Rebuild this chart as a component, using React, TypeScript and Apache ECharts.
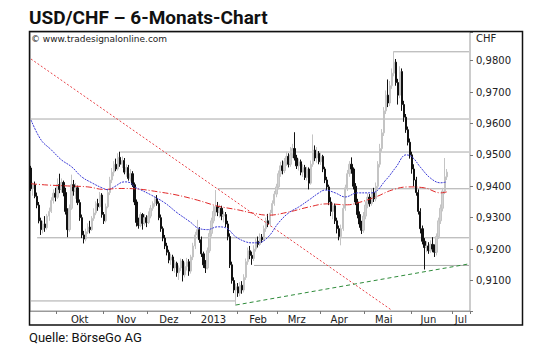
import React, { useEffect, useRef } from "react";
import * as echarts from "echarts";

// ---- categories (trading days from 2012-09-12) ----
const firstDay = "2012-09-12";
const dayCount = 217;

// ---- month tick labels ----
const monthLabels = ["Okt", "Nov", "Dez", "2013", "Feb", "Mrz", "Apr", "Mai", "Jun", "Jul"];
const monthLabelDates = [
  "2012-10-16", "2012-11-16", "2012-12-17", "2013-01-16", "2013-02-15",
  "2013-03-14", "2013-04-12", "2013-05-14", "2013-06-13", "2013-07-05",
];

// ---- daily candles [open, close, low, high] ----
const ohlc: number[][] = [
  [0.9458, 0.9392, 0.9385, 0.9465], [0.9392, 0.9405, 0.9370, 0.9412], [0.9405, 0.9368, 0.9362, 0.9415],
  [0.9368, 0.9340, 0.9330, 0.9380], [0.9340, 0.9290, 0.9282, 0.9350], [0.9290, 0.9262, 0.9245, 0.9300],
  [0.9262, 0.9280, 0.9250, 0.9290], [0.9280, 0.9268, 0.9255, 0.9305], [0.9268, 0.9305, 0.9262, 0.9312],
  [0.9305, 0.9320, 0.9290, 0.9332], [0.9320, 0.9355, 0.9315, 0.9365], [0.9355, 0.9378, 0.9345, 0.9390],
  [0.9378, 0.9365, 0.9352, 0.9395], [0.9365, 0.9405, 0.9360, 0.9425], [0.9405, 0.9390, 0.9378, 0.9440],
  [0.9390, 0.9412, 0.9380, 0.9425], [0.9412, 0.9380, 0.9368, 0.9418], [0.9380, 0.9320, 0.9310, 0.9395],
  [0.9320, 0.9262, 0.9238, 0.9330], [0.9262, 0.9330, 0.9255, 0.9342], [0.9330, 0.9405, 0.9325, 0.9437],
  [0.9405, 0.9385, 0.9370, 0.9420], [0.9385, 0.9395, 0.9360, 0.9410], [0.9395, 0.9348, 0.9340, 0.9402],
  [0.9348, 0.9300, 0.9290, 0.9358], [0.9300, 0.9245, 0.9235, 0.9310], [0.9245, 0.9232, 0.9218, 0.9258],
  [0.9232, 0.9255, 0.9225, 0.9265], [0.9255, 0.9270, 0.9248, 0.9282], [0.9270, 0.9262, 0.9250, 0.9290],
  [0.9262, 0.9298, 0.9258, 0.9305], [0.9298, 0.9315, 0.9290, 0.9330], [0.9315, 0.9345, 0.9308, 0.9352],
  [0.9345, 0.9335, 0.9322, 0.9360], [0.9335, 0.9372, 0.9330, 0.9382], [0.9372, 0.9310, 0.9300, 0.9378],
  [0.9310, 0.9290, 0.9280, 0.9318], [0.9290, 0.9335, 0.9285, 0.9345], [0.9335, 0.9380, 0.9330, 0.9392],
  [0.9380, 0.9420, 0.9372, 0.9430], [0.9420, 0.9445, 0.9410, 0.9458], [0.9445, 0.9470, 0.9432, 0.9480],
  [0.9470, 0.9455, 0.9448, 0.9488], [0.9455, 0.9492, 0.9450, 0.9505], [0.9492, 0.9470, 0.9462, 0.9510],
  [0.9470, 0.9482, 0.9458, 0.9495], [0.9482, 0.9445, 0.9438, 0.9490], [0.9445, 0.9460, 0.9430, 0.9470],
  [0.9460, 0.9425, 0.9418, 0.9468], [0.9425, 0.9440, 0.9415, 0.9455], [0.9440, 0.9405, 0.9398, 0.9448],
  [0.9405, 0.9350, 0.9340, 0.9412], [0.9350, 0.9285, 0.9272, 0.9358], [0.9285, 0.9275, 0.9265, 0.9300],
  [0.9275, 0.9310, 0.9270, 0.9318], [0.9310, 0.9282, 0.9262, 0.9315], [0.9282, 0.9300, 0.9275, 0.9312],
  [0.9300, 0.9285, 0.9270, 0.9308], [0.9285, 0.9305, 0.9280, 0.9320], [0.9305, 0.9330, 0.9298, 0.9340],
  [0.9330, 0.9345, 0.9322, 0.9352], [0.9345, 0.9360, 0.9335, 0.9368], [0.9360, 0.9345, 0.9338, 0.9372],
  [0.9345, 0.9300, 0.9292, 0.9352], [0.9300, 0.9265, 0.9255, 0.9310], [0.9265, 0.9235, 0.9225, 0.9272],
  [0.9235, 0.9210, 0.9200, 0.9245], [0.9210, 0.9190, 0.9180, 0.9220], [0.9190, 0.9165, 0.9155, 0.9198],
  [0.9165, 0.9175, 0.9150, 0.9185], [0.9175, 0.9140, 0.9130, 0.9182], [0.9140, 0.9155, 0.9125, 0.9165],
  [0.9155, 0.9125, 0.9112, 0.9160], [0.9125, 0.9140, 0.9102, 0.9148], [0.9140, 0.9162, 0.9130, 0.9170],
  [0.9162, 0.9118, 0.9097, 0.9168], [0.9118, 0.9145, 0.9110, 0.9158], [0.9145, 0.9160, 0.9132, 0.9172],
  [0.9160, 0.9130, 0.9115, 0.9168], [0.9130, 0.9175, 0.9122, 0.9182], [0.9175, 0.9210, 0.9165, 0.9220],
  [0.9210, 0.9245, 0.9200, 0.9255], [0.9245, 0.9262, 0.9235, 0.9293], [0.9262, 0.9230, 0.9220, 0.9270],
  [0.9230, 0.9185, 0.9175, 0.9240], [0.9185, 0.9150, 0.9140, 0.9192], [0.9150, 0.9140, 0.9124, 0.9165],
  [0.9140, 0.9195, 0.9135, 0.9205], [0.9195, 0.9250, 0.9188, 0.9262], [0.9250, 0.9290, 0.9240, 0.9300],
  [0.9290, 0.9320, 0.9282, 0.9338], [0.9320, 0.9335, 0.9305, 0.9388], [0.9335, 0.9318, 0.9305, 0.9350],
  [0.9318, 0.9330, 0.9300, 0.9342], [0.9330, 0.9305, 0.9292, 0.9338], [0.9305, 0.9310, 0.9285, 0.9322],
  [0.9310, 0.9280, 0.9270, 0.9318], [0.9280, 0.9240, 0.9228, 0.9290], [0.9240, 0.9150, 0.9140, 0.9250],
  [0.9150, 0.9100, 0.9090, 0.9160], [0.9100, 0.9070, 0.9060, 0.9110], [0.9070, 0.9080, 0.9020, 0.9090],
  [0.9080, 0.9060, 0.9048, 0.9092], [0.9060, 0.9085, 0.9050, 0.9095], [0.9085, 0.9070, 0.9058, 0.9098],
  [0.9070, 0.9110, 0.9062, 0.9120], [0.9110, 0.9160, 0.9102, 0.9170], [0.9160, 0.9195, 0.9150, 0.9205],
  [0.9195, 0.9180, 0.9168, 0.9210], [0.9180, 0.9170, 0.9150, 0.9192], [0.9170, 0.9200, 0.9162, 0.9212],
  [0.9200, 0.9225, 0.9192, 0.9235], [0.9225, 0.9215, 0.9205, 0.9240], [0.9215, 0.9238, 0.9210, 0.9250],
  [0.9238, 0.9230, 0.9220, 0.9248], [0.9230, 0.9265, 0.9225, 0.9275], [0.9265, 0.9290, 0.9255, 0.9300],
  [0.9290, 0.9280, 0.9270, 0.9312], [0.9280, 0.9315, 0.9272, 0.9325], [0.9315, 0.9345, 0.9305, 0.9355],
  [0.9345, 0.9375, 0.9338, 0.9385], [0.9375, 0.9398, 0.9365, 0.9408], [0.9398, 0.9440, 0.9390, 0.9450],
  [0.9440, 0.9465, 0.9430, 0.9478], [0.9465, 0.9450, 0.9438, 0.9482], [0.9450, 0.9478, 0.9442, 0.9490],
  [0.9478, 0.9495, 0.9465, 0.9510], [0.9495, 0.9470, 0.9460, 0.9505], [0.9470, 0.9500, 0.9462, 0.9525],
  [0.9500, 0.9520, 0.9490, 0.9535], [0.9520, 0.9490, 0.9482, 0.9572], [0.9490, 0.9465, 0.9455, 0.9500],
  [0.9465, 0.9478, 0.9450, 0.9488], [0.9478, 0.9445, 0.9435, 0.9485], [0.9445, 0.9460, 0.9430, 0.9470],
  [0.9460, 0.9428, 0.9420, 0.9468], [0.9428, 0.9455, 0.9418, 0.9462], [0.9455, 0.9410, 0.9390, 0.9460],
  [0.9410, 0.9470, 0.9405, 0.9482], [0.9470, 0.9515, 0.9462, 0.9565], [0.9515, 0.9490, 0.9480, 0.9530],
  [0.9490, 0.9505, 0.9475, 0.9525], [0.9505, 0.9478, 0.9470, 0.9512], [0.9478, 0.9495, 0.9468, 0.9508],
  [0.9495, 0.9455, 0.9445, 0.9500], [0.9455, 0.9420, 0.9410, 0.9462], [0.9420, 0.9398, 0.9388, 0.9430],
  [0.9398, 0.9350, 0.9340, 0.9405], [0.9350, 0.9320, 0.9305, 0.9365], [0.9320, 0.9338, 0.9295, 0.9348],
  [0.9338, 0.9290, 0.9280, 0.9345], [0.9290, 0.9265, 0.9250, 0.9300], [0.9265, 0.9240, 0.9228, 0.9275],
  [0.9240, 0.9265, 0.9212, 0.9278], [0.9265, 0.9330, 0.9258, 0.9340], [0.9330, 0.9395, 0.9322, 0.9405],
  [0.9395, 0.9440, 0.9385, 0.9452], [0.9440, 0.9470, 0.9430, 0.9480], [0.9470, 0.9455, 0.9440, 0.9492],
  [0.9455, 0.9400, 0.9390, 0.9460], [0.9400, 0.9350, 0.9340, 0.9410], [0.9350, 0.9310, 0.9298, 0.9360],
  [0.9310, 0.9280, 0.9268, 0.9320], [0.9280, 0.9260, 0.9248, 0.9290], [0.9260, 0.9305, 0.9252, 0.9318],
  [0.9305, 0.9340, 0.9295, 0.9352], [0.9340, 0.9365, 0.9330, 0.9378], [0.9365, 0.9345, 0.9335, 0.9375],
  [0.9345, 0.9380, 0.9338, 0.9392], [0.9380, 0.9360, 0.9350, 0.9395], [0.9360, 0.9400, 0.9352, 0.9412],
  [0.9400, 0.9470, 0.9392, 0.9480], [0.9470, 0.9520, 0.9460, 0.9535], [0.9520, 0.9570, 0.9510, 0.9582],
  [0.9570, 0.9640, 0.9560, 0.9652], [0.9640, 0.9690, 0.9630, 0.9705], [0.9690, 0.9665, 0.9652, 0.9740],
  [0.9665, 0.9720, 0.9655, 0.9735], [0.9720, 0.9760, 0.9710, 0.9775], [0.9760, 0.9795, 0.9750, 0.9830],
  [0.9795, 0.9730, 0.9720, 0.9805], [0.9730, 0.9690, 0.9660, 0.9742], [0.9690, 0.9765, 0.9680, 0.9782],
  [0.9765, 0.9660, 0.9640, 0.9775], [0.9660, 0.9620, 0.9605, 0.9672], [0.9620, 0.9580, 0.9570, 0.9630],
  [0.9580, 0.9540, 0.9530, 0.9590], [0.9540, 0.9500, 0.9488, 0.9552], [0.9500, 0.9455, 0.9440, 0.9510],
  [0.9455, 0.9420, 0.9400, 0.9470], [0.9420, 0.9380, 0.9370, 0.9430], [0.9380, 0.9320, 0.9310, 0.9390],
  [0.9320, 0.9265, 0.9250, 0.9330], [0.9265, 0.9225, 0.9215, 0.9275], [0.9225, 0.9205, 0.9135, 0.9235],
  [0.9205, 0.9210, 0.9190, 0.9225], [0.9210, 0.9195, 0.9185, 0.9222], [0.9195, 0.9215, 0.9188, 0.9228],
  [0.9215, 0.9200, 0.9190, 0.9238], [0.9200, 0.9190, 0.9175, 0.9215], [0.9190, 0.9240, 0.9180, 0.9250],
  [0.9240, 0.9290, 0.9232, 0.9300], [0.9290, 0.9330, 0.9280, 0.9342], [0.9330, 0.9385, 0.9320, 0.9395],
  [0.9385, 0.9430, 0.9375, 0.9490], [0.9430, 0.9445, 0.9420, 0.9455],
];

// ---- moving averages: [dayIndex, value] ----
const maBlue: number[][] = [
  [0, 0.9611], [5, 0.9547], [10, 0.9516], [15, 0.9484], [20, 0.9462], [25, 0.9430], [30, 0.9411],
  [35, 0.9395], [38, 0.9389], [41, 0.9398], [46, 0.9414], [49, 0.9411], [51, 0.9398], [54, 0.9389],
  [59, 0.9373], [66, 0.9347], [72, 0.9316], [79, 0.9284], [82, 0.9268], [87, 0.9262], [92, 0.9271],
  [96, 0.9268], [101, 0.9239], [106, 0.9223], [109, 0.9220], [112, 0.9220], [117, 0.9239],
  [122, 0.9283], [127, 0.9315], [132, 0.9334], [137, 0.9356], [142, 0.9379], [145, 0.9388],
  [150, 0.9379], [155, 0.9366], [161, 0.9379], [168, 0.9379], [175, 0.9420], [180, 0.9461],
  [185, 0.9500], [188, 0.9493], [192, 0.9461], [197, 0.9426], [202, 0.9411], [205, 0.9414],
];
const maRed: number[][] = [
  [0, 0.9408], [8, 0.9404], [18, 0.9401], [28, 0.9398], [36, 0.9390], [43, 0.9393], [53, 0.9391],
  [63, 0.9382], [72, 0.9372], [82, 0.9356], [92, 0.9337], [102, 0.9325], [109, 0.9315],
  [117, 0.9308], [127, 0.9318], [137, 0.9334], [146, 0.9344], [156, 0.9341], [161, 0.9347],
  [170, 0.9366], [178, 0.9388], [186, 0.9398], [194, 0.9395], [202, 0.9379], [205, 0.9382],
];

// ---- trend lines [dayIndex, value] ----
const downTrend: number[][] = [[0, 0.9805], [178, 0.9005]];
const upTrend: number[][] = [[101, 0.9022], [216, 0.9153]];

// ---- horizontal levels ----
const levelLabels = ["0,983", "0,961", "0,951", "0,939", "0,923", "0,917", "0,904"];
const levelValues = [0.9828, 0.9614, 0.9509, 0.9392, 0.9236, 0.9148, 0.9035];
const levelFrom = [179, 0, 44, 92, 3, 110, 0];
const levelTo = [216, 216, 216, 216, 216, 216, 101];
const levelLabelDay = [162, 85, 88, 108, 8, 137, 54];
const levelLabelValue = [0.9837, 0.9643, 0.9525, 0.9414, 0.9194, 0.9121, 0.9045];

const FONT = "DejaVu Sans";

function buildCategories(): string[] {
  const out: string[] = [];
  const d = new Date(firstDay + "T12:00:00Z");
  while (out.length < dayCount) {
    const wd = d.getUTCDay();
    if (wd !== 0 && wd !== 6) out.push(d.toISOString().slice(0, 10));
    d.setUTCDate(d.getUTCDate() + 1);
  }
  return out;
}

export default function App() {
  const ref = useRef<HTMLDivElement>(null);
  useEffect(() => {
    document.body.style.margin = "0";
    if (!ref.current) return;
    const chart = echarts.init(ref.current, undefined, { renderer: "svg" });
    const categories = buildCategories();
    const monthStart = new Set<number>();
    for (let i = 1; i < categories.length; i++) {
      if (categories[i].slice(5, 7) !== categories[i - 1].slice(5, 7)) monthStart.add(i);
    }
    const labelMap: Record<string, string> = {};
    monthLabelDates.forEach((d, i) => (labelMap[d] = monthLabels[i]));

    const levelSeries = levelValues.map((v, k) => ({
      type: "line",
      data: [[levelFrom[k], v], [levelTo[k], v]],
      symbol: "none",
      silent: true,
      z: 1,
      lineStyle: { color: "#a8a8a8", width: 1 },
    }));

    const option: any = {
      animation: false,
      backgroundColor: "#ffffff",
      grid: {
        left: 30, top: 32, width: 440, height: 279,
        show: true, borderColor: "#9a9a9a", borderWidth: 1,
      },
      xAxis: {
        type: "category",
        data: categories,
        boundaryGap: true,
        axisLine: { lineStyle: { color: "#9a9a9a" } },
        axisTick: {
          show: true, length: 3,
          interval: (idx: number) => monthStart.has(idx),
          lineStyle: { color: "#777" },
        },
        axisLabel: {
          interval: (_idx: number, val: string) => labelMap[val] !== undefined,
          formatter: (val: string) => labelMap[val] || "",
          fontFamily: FONT, fontSize: 10, color: "#222", margin: 3,
        },
        splitLine: { show: false },
      },
      yAxis: {
        type: "value",
        position: "right",
        min: 0.9003, max: 0.9891,
        splitNumber: 9, minInterval: 0.01, maxInterval: 0.01,
        axisLine: { show: false },
        axisTick: { show: true, length: 3, lineStyle: { color: "#777" } },
        axisLabel: {
          margin: 6, fontFamily: FONT, fontSize: 10, color: "#222",
          formatter: (v: number) =>
            Math.abs(v * 100 - Math.round(v * 100)) < 1e-6 ? v.toFixed(4).replace(".", ",") : "",
        },
        splitLine: { show: false },
      },
      series: [
        ...levelSeries,
        {
          type: "candlestick",
          data: ohlc,
          barWidth: 1.8,
          z: 2,
          itemStyle: {
            color: "#d2d2d2", borderColor: "#c4c4c4",
            color0: "#111111", borderColor0: "#111111", borderWidth: 1,
          },
        },
        {
          type: "line", data: downTrend, symbol: "none", silent: true, z: 3,
          lineStyle: { color: "#e8454a", width: 1, type: [2, 2] },
        },
        {
          type: "line", data: upTrend, symbol: "none", silent: true, z: 3,
          lineStyle: { color: "#2e8b3a", width: 1, type: [4, 3] },
        },
        {
          type: "line", data: maBlue, symbol: "none", smooth: 0.4, silent: true, z: 3,
          lineStyle: { color: "#3b3bd6", width: 1, type: [2, 1] },
        },
        {
          type: "line", data: maRed, symbol: "none", smooth: 0.4, silent: true, z: 3,
          lineStyle: { color: "#e02828", width: 1, type: [6, 2, 1, 2] },
        },
        {
          type: "scatter",
          data: levelLabelValue.map((v, k) => ({ value: [levelLabelDay[k], v], name: levelLabels[k] })),
          symbolSize: 1,
          itemStyle: { opacity: 0 },
          silent: true,
          z: 4,
          label: {
            show: true, position: "inside", formatter: (p: any) => p.name,
            fontFamily: FONT, fontSize: 10, color: "#222",
          },
        },
      ],
      graphic: [
        {
          type: "text", left: 29, top: 8,
          style: { text: "USD/CHF – 6-Monats-Chart", font: "bold 19px Roboto", fill: "#111" },
        },
        {
          type: "rect", shape: { x: 29.5, y: 31.5, width: 493, height: 293.5 },
          style: { fill: "none", stroke: "#111", lineWidth: 1.5 }, z: 10,
        },
        {
          type: "text", x: 31, y: 39,
          style: { text: "© www.tradesignalonline.com", font: "9px 'DejaVu Sans'", fill: "#222", verticalAlign: "middle" },
        },
        {
          type: "text", x: 476, y: 38,
          style: { text: "CHF", font: "10px 'DejaVu Sans'", fill: "#222", verticalAlign: "middle" },
        },
        {
          type: "text", x: 29, y: 337,
          style: { text: "Quelle: BörseGo AG", font: "13px Roboto", fill: "#111", verticalAlign: "middle" },
        },
      ],
    };
    chart.setOption(option);
    return () => chart.dispose();
  }, []);
  return <div ref={ref} style={{ width: 540, height: 351 }} />;
}
